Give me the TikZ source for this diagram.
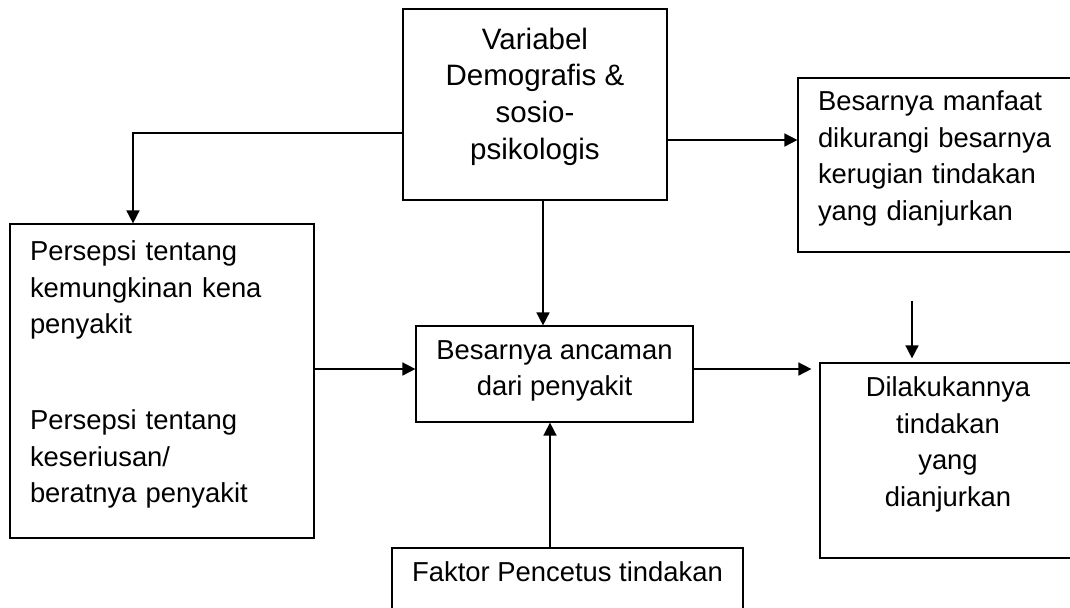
\documentclass[tikz,border=0pt]{standalone}
\usepackage{fontspec}
\setmainfont{Liberation Sans}
\usetikzlibrary{arrows.meta,calc}

\tikzset{
  box/.style={draw, line width=.6pt, inner xsep=0pt, inner ysep=0pt,
    font=\fontsize{13.7pt}{18.3pt}\selectfont},
  arr/.style={line width=.8pt, -{Triangle[length=6.5pt,width=6.5pt]}}
}

\begin{document}
\begin{tikzpicture}[x=.5pt,y=-.5pt]
  \useasboundingbox (0,0) rectangle (1070,607);
  \clip (0,0) rectangle (1070,607);

  % boxes
  \node[box, font=\fontsize{14.75pt}{18.35pt}\selectfont, minimum width=132pt,
    minimum height=95.5pt, align=center, text depth=10.9pt] (demo) at (535,104.5)
    {Variabel\\ Demografis \&\\ sosio-\\ psikologis};
  \node[box, minimum width=152pt, minimum height=157pt, inner xsep=10pt,
    text width=132pt, align=left, text depth=130.2pt] (persepsi) at (162,381)
    {Persepsi tentang\\ kemungkinan kena\\ penyakit\\[29.5pt]
     Persepsi tentang\\ keseriusan/\\ beratnya penyakit};
  \node[box, minimum width=138.5pt, minimum height=48pt, align=center,
    text depth=5.9pt] (ancaman) at (554.5,374)
    {Besarnya ancaman\\ dari penyakit};
  \node[box, minimum width=140pt, minimum height=87pt, inner xsep=10pt,
    text width=120pt, align=left, text depth=64.2pt] (manfaat) at (938,165)
    {Besarnya manfaat\\ dikurangi besarnya\\ kerugian tindakan\\ yang dianjurkan};
  \node[box, minimum width=128pt, minimum height=97.5pt, align=center,
    text depth=18.8pt] (tindakan) at (948,460.5)
    {Dilakukannya\\ tindakan\\ yang\\ dianjurkan};
  \node[box, minimum width=175.5pt, minimum height=41pt, align=center,
    text depth=17.2pt] (pencetus) at (567.5,589)
    {Faktor Pencetus tindakan};

  % connectors
  \draw[arr] ($(demo.west)+(0,28.5)$) -| ($(persepsi.north)+(-29,0)$);

  \coordinate (d1) at ($(demo.east)+(0,35.5)$);
  \draw[arr] (d1) -- (d1 -| manfaat.west);

  \coordinate (d2) at ($(demo.south)+(8,0)$);
  \draw[arr] (d2) -- (d2 |- ancaman.north);

  \coordinate (p1) at ($(persepsi.east)+(0,-12)$);
  \draw[arr] (p1) -- (p1 -| ancaman.west);

  \coordinate (a1) at ($(ancaman.east)+(0,-5)$);
  \draw[arr, shorten >=4pt] (a1) -- (a1 -| tindakan.west);

  \coordinate (m1) at ($(tindakan.north)+(-36,0)$);
  \draw[arr, shorten <=24pt, shorten >=2pt] (m1 |- manfaat.south) -- (m1);

  \coordinate (f1) at ($(pencetus.north)+(-17.5,0)$);
  \draw[arr] (f1) -- (f1 |- ancaman.south);
\end{tikzpicture}
\end{document}
